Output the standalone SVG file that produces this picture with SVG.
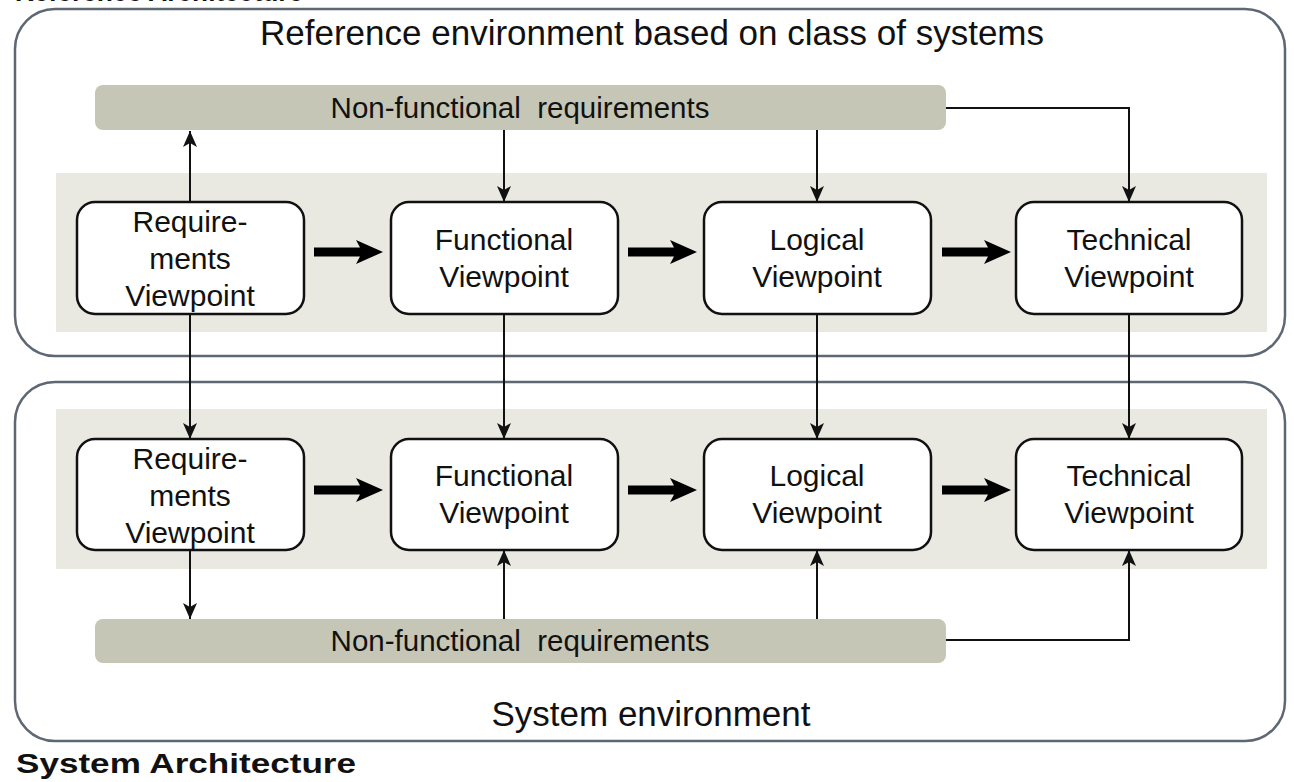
<svg xmlns="http://www.w3.org/2000/svg" width="1294" height="782" viewBox="0 0 1294 782">
<style>
.container{fill:none;stroke:#5d6874;stroke-width:2.5}
.band{fill:#e9e8e1}
.bar{fill:#c6c6b7}
.node{fill:#fff;stroke:#111;stroke-width:2.5}
.t{font-family:"Liberation Sans",Arial,sans-serif;fill:#111;text-anchor:middle}
.nt{font-size:30px}
.big{font-size:35px}
.h{font-family:"Liberation Sans",Arial,sans-serif;font-weight:bold;font-size:28px;fill:#111}
.thin{fill:none;stroke:#111;stroke-width:2;marker-end:url(#ah)}
.thick{fill:#000}
</style>
<defs>
<marker id="ah" viewBox="0 -8 16 16" refX="16" refY="0" markerWidth="16" markerHeight="16" markerUnits="userSpaceOnUse" orient="auto">
<path d="M0,-7 L16,0 L0,7 L4,0 z" fill="#111"/>
</marker>
<path id="fat" d="M0,-4.5 L46,-4.5 L42,-12 L69,0 L42,12 L46,4.5 L0,4.5 z"/>
</defs>

<text class="h" x="15" y="1" textLength="288" lengthAdjust="spacingAndGlyphs">Reference Architecture</text>
<text class="h" x="16" y="773" textLength="340" lengthAdjust="spacingAndGlyphs">System Architecture</text>

<g id="reference-environment">
<rect class="container" x="15" y="9" width="1270" height="347" rx="40"/>
<text class="t big" x="652" y="45">Reference environment based on class of systems</text>
</g>
<g id="system-environment">
<rect class="container" x="15" y="382" width="1270" height="359" rx="40"/>
<text class="t big" x="651" y="726">System environment</text>
</g>

<rect class="band" x="56" y="173" width="1211" height="159"/>
<rect class="band" x="56" y="409" width="1211" height="160"/>

<g id="nfr-top">
<rect class="bar" x="95" y="85" width="851" height="45" rx="8"/>
<text class="t" x="520" y="118" font-size="29.5" xml:space="preserve">Non-functional  requirements</text>
</g>
<g id="nfr-bottom">
<rect class="bar" x="95" y="619" width="851" height="44" rx="8"/>
<text class="t" x="520" y="651" font-size="29.5" xml:space="preserve">Non-functional  requirements</text>
</g>

<g id="ref-requirements">
<rect class="node" x="77" y="202" width="227" height="112" rx="18"/>
<text class="t nt" x="190" y="232">Require-</text>
<text class="t nt" x="190" y="269">ments</text>
<text class="t nt" x="190" y="306">Viewpoint</text>
</g>
<g id="ref-functional">
<rect class="node" x="391" y="202" width="227" height="112" rx="18"/>
<text class="t nt" x="504" y="250">Functional</text>
<text class="t nt" x="504" y="287">Viewpoint</text>
</g>
<g id="ref-logical">
<rect class="node" x="704" y="202" width="227" height="112" rx="18"/>
<text class="t nt" x="817" y="250">Logical</text>
<text class="t nt" x="817" y="287">Viewpoint</text>
</g>
<g id="ref-technical">
<rect class="node" x="1016" y="202" width="226" height="112" rx="18"/>
<text class="t nt" x="1129" y="250">Technical</text>
<text class="t nt" x="1129" y="287">Viewpoint</text>
</g>

<g id="sys-requirements">
<rect class="node" x="77" y="439" width="227" height="111" rx="18"/>
<text class="t nt" x="190" y="469">Require-</text>
<text class="t nt" x="190" y="506">ments</text>
<text class="t nt" x="190" y="543">Viewpoint</text>
</g>
<g id="sys-functional">
<rect class="node" x="391" y="439" width="227" height="111" rx="18"/>
<text class="t nt" x="504" y="486">Functional</text>
<text class="t nt" x="504" y="523">Viewpoint</text>
</g>
<g id="sys-logical">
<rect class="node" x="704" y="439" width="227" height="111" rx="18"/>
<text class="t nt" x="817" y="486">Logical</text>
<text class="t nt" x="817" y="523">Viewpoint</text>
</g>
<g id="sys-technical">
<rect class="node" x="1016" y="439" width="226" height="111" rx="18"/>
<text class="t nt" x="1129" y="486">Technical</text>
<text class="t nt" x="1129" y="523">Viewpoint</text>
</g>

<g id="connectors">
<use href="#fat" class="thick" x="314" y="252"/>
<use href="#fat" class="thick" x="628" y="252"/>
<use href="#fat" class="thick" x="942" y="252"/>
<use href="#fat" class="thick" x="314" y="490"/>
<use href="#fat" class="thick" x="628" y="490"/>
<use href="#fat" class="thick" x="942" y="490"/>

<path class="thin" d="M190,202 V131"/>
<path class="thin" d="M504,130 V202"/>
<path class="thin" d="M817,130 V202"/>
<path class="thin" d="M946,108 H1129 V202"/>

<path class="thin" d="M190,314 V439"/>
<path class="thin" d="M504,314 V439"/>
<path class="thin" d="M817,314 V439"/>
<path class="thin" d="M1129,314 V439"/>

<path class="thin" d="M190,550 V619"/>
<path class="thin" d="M504,619 V550"/>
<path class="thin" d="M817,619 V550"/>
<path class="thin" d="M946,640 H1129 V550"/>
</g>
</svg>
